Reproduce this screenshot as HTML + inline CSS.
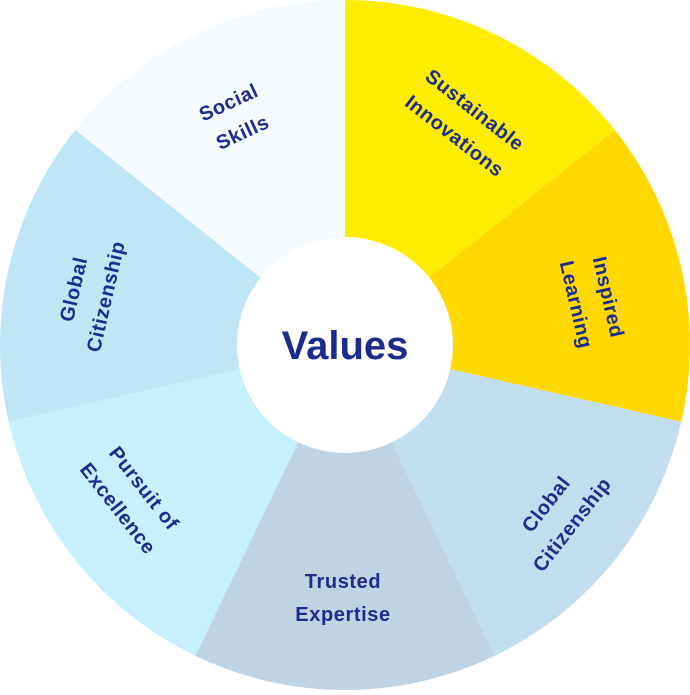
<!DOCTYPE html>
<html><head><style>html,body{margin:0;padding:0;background:#fff}</style></head>
<body>
<svg width="690" height="690" viewBox="0 0 690 690" xmlns="http://www.w3.org/2000/svg">
<g stroke="none">
<path d="M345,345 L345,0 A345,345 0 0 1 614.7,129.9 Z" fill="#FFED00"/>
<path d="M345,345 L614.7,129.9 A345,345 0 0 1 681.3,421.8 Z" fill="#FFD800"/>
<path d="M345,345 L681.3,421.8 A345,345 0 0 1 494.7,655.8 Z" fill="#C2DEEE"/>
<path d="M345,345 L494.7,655.8 A345,345 0 0 1 195.3,655.8 Z" fill="#BFD3E3"/>
<path d="M345,345 L195.3,655.8 A345,345 0 0 1 8.7,421.8 Z" fill="#C6F0FB"/>
<path d="M345,345 L8.7,421.8 A345,345 0 0 1 75.3,129.9 Z" fill="#BEE6F5"/>
<path d="M345,345 L75.3,129.9 A345,345 0 0 1 345,0 Z" fill="#F4FAFD"/>
</g>
<circle cx="345" cy="345" r="108" fill="#fff"/>
<g font-family="Liberation Sans, sans-serif" font-weight="bold" fill="#1B2C8C" text-anchor="middle" font-size="20" letter-spacing="0.6">
<text x="345" y="359" font-size="40" letter-spacing="0">Values</text>
<g transform="translate(467,120) rotate(38)"><text y="-6">Sustainable</text><text y="27">Innovations</text></g>
<g transform="translate(596,300) rotate(77)"><text y="-6">Inspired</text><text y="27">Learning</text></g>
<g transform="translate(556,512) rotate(-52)"><text y="-6">Clobal</text><text y="27">Citizenship</text></g>
<g transform="translate(343,594)"><text y="-6">Trusted</text><text y="27">Expertise</text></g>
<g transform="translate(134,496) rotate(52)"><text y="-6">Pursuit of</text><text y="27">Excellence</text></g>
<g transform="translate(86,292) rotate(-77)"><text y="-6">Global</text><text y="27">Citizenship</text></g>
<g transform="translate(234,114) rotate(-25)"><text y="-6">Social</text><text y="27">Skills</text></g>
</g>
</svg>
</body></html>
